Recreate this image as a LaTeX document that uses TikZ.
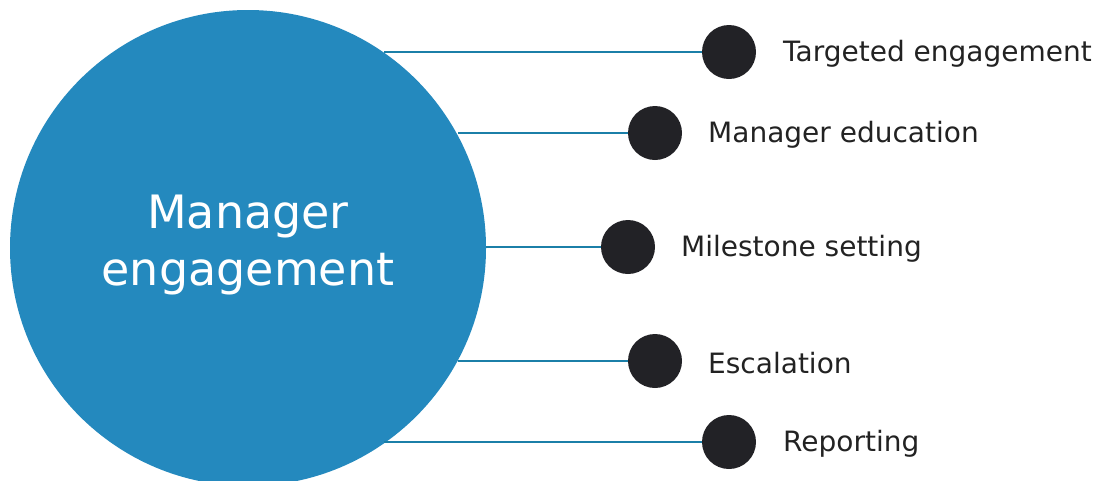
\documentclass[tikz,border=0pt]{standalone}
\usepackage{fontspec}
\setmainfont{DejaVu Sans}
\definecolor{bigblue}{HTML}{2489BE}
\definecolor{linkblue}{HTML}{1B7FA8}
\definecolor{dotdark}{HTML}{222226}
\definecolor{txt}{HTML}{222222}
\begin{document}
\begin{tikzpicture}[x=1pt,y=-1pt,
  hub/.style={circle,fill=bigblue,minimum size=476pt,inner sep=0pt},
  dot/.style={circle,fill=dotdark,minimum size=54pt,inner sep=0pt},
  link/.style={draw=linkblue,line width=2.8pt},
  lbl/.style={anchor=west,text=txt,font=\fontsize{28}{32}\selectfont,inner sep=0pt,yshift=-2pt}]
\useasboundingbox (0,0) rectangle (1100,480);
\begin{scope}
\clip (0,0) rectangle (1100,480);
\node[hub] (hub) at (248,248) {};
\node[align=center,text=white,font=\fontsize{46}{57}\selectfont] (ht) at (248,245) {Manager\\engagement};
\end{scope}
\node[dot] (d1) at (729,52) {};
\node[dot] (d2) at (655,133) {};
\node[dot] (d3) at (628,247) {};
\node[dot] (d4) at (655,361) {};
\node[dot] (d5) at (729,442) {};
\coordinate (s1) at (384,52);
\coordinate (s2) at (458,133);
\coordinate (s3) at (486,247);
\coordinate (s4) at (458,361);
\coordinate (s5) at (384,442);
\draw[link] (s1) -- (d1.west);
\draw[link] (s2) -- (d2.west);
\draw[link] (s3) -- (d3.west);
\draw[link] (s4) -- (d4.west);
\draw[link] (s5) -- (d5.west);
\node[lbl] (t1) at (783,52) {Targeted engagement};
\node[lbl] (t2) at (708,133) {Manager education};
\node[lbl] (t3) at (681,247) {Milestone setting};
\node[lbl] (t4) at (708,361) {Escalation};
\node[lbl] (t5) at (783,442) {Reporting};
\end{tikzpicture}
\end{document}
